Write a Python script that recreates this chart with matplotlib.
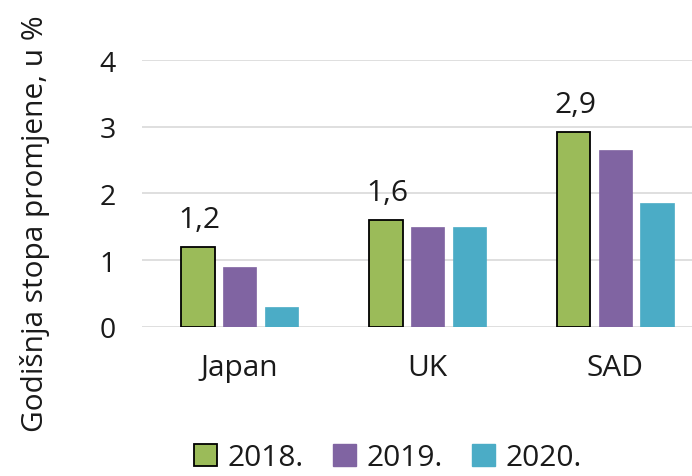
import matplotlib
matplotlib.use("Agg")
import matplotlib.pyplot as plt
from matplotlib.patches import Patch
import numpy as np

categories = ["Japan", "UK", "SAD"]
years = ["2018.", "2019.", "2020."]
v2018 = [1.2, 1.6, 2.92]
v2019 = [0.9, 1.5, 2.65]
v2020 = [0.3, 1.5, 1.85]
labels2018 = ["1,2", "1,6", "2,9"]
colors = ["#9BBB59", "#8064A2", "#4BACC6"]

plt.rcParams['font.family'] = ['Open Sans', 'DejaVu Sans']

W, H = 692, 477
fig = plt.figure(figsize=(W/100, H/100), dpi=100)
left, right, bottom, top = 142, 692, 327.7, 61
ax = fig.add_axes([left/W, 1-bottom/H, (right-left)/W, (bottom-top)/H])

FS = 21.5

x = np.arange(len(categories))
step = 0.221
width = 0.176
series = [v2018, v2019, v2020]
for i, (vals, c) in enumerate(zip(series, colors)):
    ec = "black" if i == 0 else c
    lw = 1.3 if i == 0 else 0.5
    bars = ax.bar(x + (i-1)*step, vals, width, color=c, edgecolor=ec, linewidth=lw, zorder=3)
    if i == 0:
        for b, lab in zip(bars, labels2018):
            ax.annotate(lab, (b.get_x()+b.get_width()/2, b.get_height()),
                        xytext=(1, 14.5), textcoords="offset points",
                        ha="center", va="baseline", fontsize=FS, color="#1a1a1a")

ax.set_ylim(0, 4)
ax.set_xlim(-0.519, 2.407)
ax.set_yticks([0, 1, 2, 3, 4])
ax.set_yticklabels(["0", "1", "2", "3", "4"])
ax.set_xticks(x)
ax.set_xticklabels(categories)
ax.grid(axis="y", color="#D9D9D9", linewidth=1.2, zorder=0)
for s in ax.spines.values():
    s.set_visible(False)
ax.tick_params(axis="y", length=0, pad=19, labelsize=20.5, labelcolor="#1a1a1a")
ax.tick_params(axis="x", length=0, pad=19, labelsize=FS, labelcolor="#1a1a1a")

fig.text(35/W, 1-224/H, "Godišnja stopa promjene, u %", rotation=90,
         ha="center", va="center", fontsize=FS, color="#1a1a1a")

handles = [Patch(facecolor=colors[0], edgecolor="black", linewidth=1.3),
           Patch(facecolor=colors[1], edgecolor=colors[1]),
           Patch(facecolor=colors[2], edgecolor=colors[2])]
fig.legend(handles, years, loc="center", bbox_to_anchor=(388/W, 1-459/H),
           ncol=3, frameon=False, fontsize=FS, handlelength=0.75, handleheight=0.75,
           handletextpad=0.35, columnspacing=1.0, borderpad=0, labelcolor="#1a1a1a")

fig.savefig("out.png", dpi=100)
